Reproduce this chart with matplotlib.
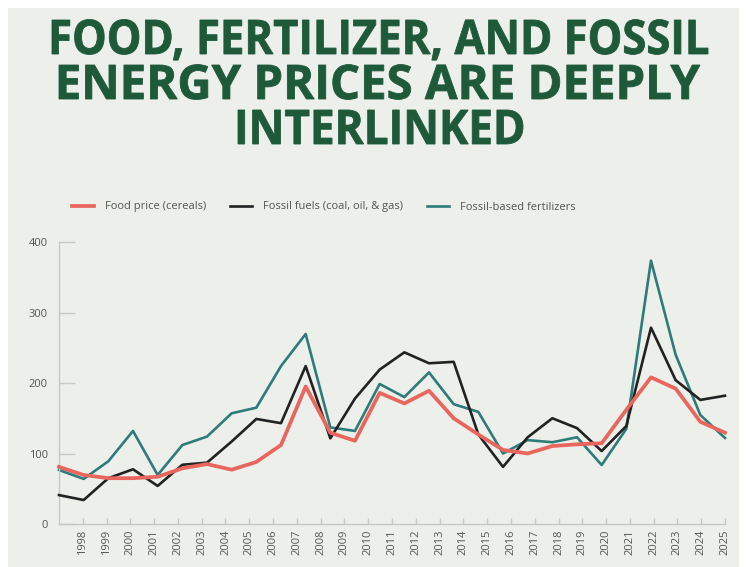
import matplotlib
matplotlib.use('Agg')
import matplotlib.pyplot as plt
import numpy as np
from matplotlib.textpath import TextPath
from matplotlib.patches import PathPatch, Rectangle
from matplotlib.font_manager import FontProperties
from matplotlib.transforms import Affine2D, IdentityTransform

# price index series, one value per year
years = list(range(1998, 2026))
food = [81, 69.5, 65, 65, 67, 79, 85, 77, 88, 112, 195, 129.5, 118, 186,
        171, 189, 150, 127, 105, 100, 110.6, 113, 114.5, 162, 208, 192, 145, 129.5]
fossil = [41, 34, 65, 77.6, 54, 84, 87, 117, 149, 143, 224, 121.5, 178, 219,
          243.5, 228, 230, 127, 81, 123, 150, 136, 103.5, 139, 278.5, 204, 176, 182]
fert = [76.6, 64, 89, 132, 69.5, 112, 124, 157, 165, 224, 269.5, 137, 132, 198.6,
        180, 215, 170, 159, 100, 119, 116, 123, 83.7, 135, 373.5, 240, 154.6, 122]

title_lines = ["FOOD, FERTILIZER, AND FOSSIL", "ENERGY PRICES ARE DEEPLY", "INTERLINKED"]

W, H = 747, 567
BG = '#edefea'
GREEN = '#1e5a3a'
GREY = '#555555'
AXIS = '#c6cac4'

plt.rcParams['font.family'] = ['Open Sans', 'DejaVu Sans']

fig = plt.figure(figsize=(W / 100, H / 100), dpi=100)
fig.patch.set_facecolor('white')
fig.add_artist(Rectangle((8 / W, 0), (739 - 8) / W, (H - 8) / H, transform=fig.transFigure,
                         facecolor=BG, edgecolor='none', zorder=-10))


def title_line(text, x0, x1, y_base, cap_h):
    # draw heavy condensed text as a path squeezed into a pixel box
    prop = FontProperties(family='Open Sans', weight='bold')
    tp = TextPath((0, 0), text, size=100, prop=prop)
    ext = tp.get_extents()
    cap = TextPath((0, 0), 'H', size=100, prop=prop).get_extents().height
    sx = (x1 - x0) / ext.width
    sy = cap_h / cap
    tr = Affine2D().translate(-ext.x0, 0).scale(sx, sy).translate(x0, H - y_base)
    fig.add_artist(PathPatch(tr.transform_path(tp), transform=IdentityTransform(),
                             facecolor=GREEN, edgecolor=GREEN, lw=0.6))


title_line(title_lines[0], 52, 708, 54, 34)
title_line(title_lines[1], 59, 700, 99, 34)
title_line(title_lines[2], 238, 523, 144, 34)

ax = fig.add_axes([59 / W, 43 / H, (725 - 59) / W, (524 - 242) / H])
ax.set_facecolor('none')

x = np.arange(len(years))
ax.plot(x, fert, color='#2e7b79', lw=1.9, label='Fossil-based fertilizers', zorder=2, clip_on=False)
ax.plot(x, fossil, color='#222222', lw=1.9, label='Fossil fuels (coal, oil, & gas)', zorder=3, clip_on=False)
ax.plot(x, food, color='#e8665e', lw=2.7, label='Food price (cereals)', zorder=4, clip_on=False)

ax.set_xlim(0, len(years) - 1)
ax.set_ylim(0, 400)
ax.set_yticks([0, 100, 200, 300, 400])

# year labels sit at the right edge of equal-width bands across the axis
n = len(years)
ax.set_xticks((np.arange(n) + 1) * (n - 1) / n)
ax.set_xticklabels([str(y) for y in years])

for s in ['top', 'right']:
    ax.spines[s].set_visible(False)
for s in ['left', 'bottom']:
    ax.spines[s].set_color(AXIS)
    ax.spines[s].set_linewidth(1)

ax.tick_params(axis='y', direction='in', length=11.5, width=1, color=AXIS, pad=8,
               labelsize=8, labelcolor=GREY)
ax.tick_params(axis='x', direction='in', length=4.5, width=1, color=AXIS, pad=4,
               labelsize=8, labelcolor=GREY, labelrotation=90)

h, l = ax.get_legend_handles_labels()
order = [2, 1, 0]
fig.legend([h[i] for i in order], [l[i] for i in order], loc='center left',
           bbox_to_anchor=(72 / W, 1 - 207 / H), ncol=3, frameon=False, fontsize=8,
           handlelength=2.0, handletextpad=1.0, columnspacing=2.1, borderpad=0,
           borderaxespad=0, labelcolor=GREY)

fig.savefig('out.png', dpi=100, facecolor=fig.get_facecolor())
